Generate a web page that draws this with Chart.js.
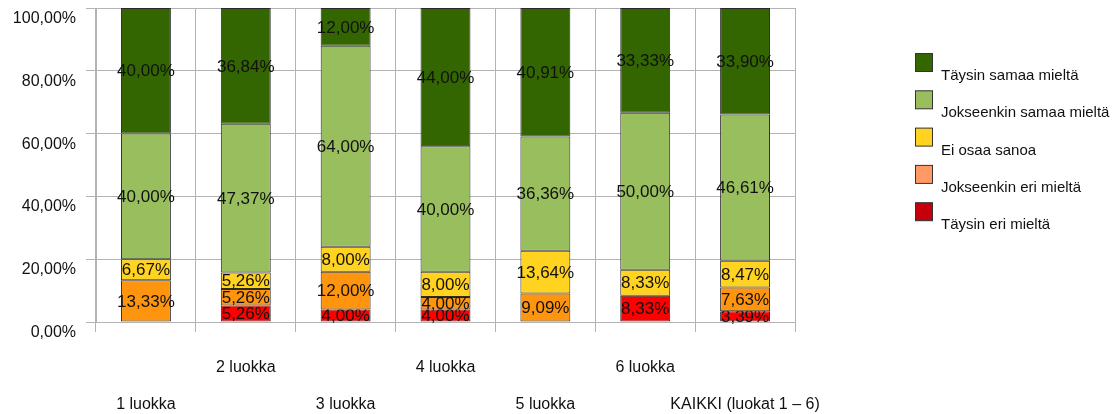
<!DOCTYPE html>
<html>
<head>
<meta charset="utf-8">
<script src="https://cdn.jsdelivr.net/npm/chart.js@4"></script>
<style>
  body { margin: 0; background: #fff; }
</style>
</head>
<body>
<canvas id="kysely" width="1119" height="414"></canvas>
<script>
const luokat = ['1 luokka', '2 luokka', '3 luokka', '4 luokka', '5 luokka', '6 luokka', 'KAIKKI (luokat 1 – 6)'];

// bottom to top of each stack
const taysinEri = [0, 5.26, 4.00, 4.00, 0, 8.33, 3.39];
const jokseenkinEri = [13.33, 5.26, 12.00, 4.00, 9.09, 0, 7.63];
const eiOsaa = [6.67, 5.26, 8.00, 8.00, 13.64, 8.33, 8.47];
const jokseenkinSamaa = [40.00, 47.37, 64.00, 40.00, 36.36, 50.00, 46.61];
const taysinSamaa = [40.00, 36.84, 12.00, 44.00, 40.91, 33.33, 33.90];

const yTicks = [0, 20, 40, 60, 80, 100];

const sarjat = ['Täysin eri mieltä', 'Jokseenkin eri mieltä', 'Ei osaa sanoa', 'Jokseenkin samaa mieltä', 'Täysin samaa mieltä'];
const palkkiVarit = ['#ff0000', '#ff950e', '#ffd320', '#98be5e', '#336600'];
const selitysVarit = ['#c5000b', '#ff9966', '#ffd320', '#98be5e', '#336600'];

const fontti = 'Liberation Sans, Arial, sans-serif';
const pros = v => v.toFixed(2).replace('.', ',') + '%';

// value labels, clipped at the top of their own segment
const arvoLabelit = {
  id: 'arvoLabelit',
  afterDatasetsDraw(chart) {
    const ctx = chart.ctx;
    ctx.save();
    ctx.font = '17px ' + fontti;
    ctx.fillStyle = '#111';
    ctx.textAlign = 'center';
    ctx.textBaseline = 'middle';
    chart.data.datasets.forEach((ds, i) => {
      const meta = chart.getDatasetMeta(i);
      meta.data.forEach((bar, j) => {
        const v = ds.data[j];
        if (!v) return;
        const p = bar.getProps(['x', 'y', 'base'], true);
        ctx.save();
        ctx.beginPath();
        ctx.rect(p.x - 60, p.y, 120, chart.height - p.y);
        ctx.clip();
        ctx.fillText(pros(v), p.x, (p.y + p.base) / 2 + 1);
        ctx.restore();
      });
    });
    ctx.restore();
  }
};

// legend on the right, top entry is the last series
const selite = {
  id: 'selite',
  afterDraw(chart) {
    const ctx = chart.ctx;
    ctx.save();
    ctx.font = '15px ' + fontti;
    ctx.textBaseline = 'middle';
    for (let k = 0; k < sarjat.length; k++) {
      const i = sarjat.length - 1 - k;
      const y = 53 + k * 37.3;
      ctx.fillStyle = selitysVarit[i];
      ctx.fillRect(915.5, y + 0.5, 17, 18);
      ctx.strokeStyle = '#333';
      ctx.lineWidth = 1;
      ctx.strokeRect(915.5, y + 0.5, 17, 18);
      ctx.fillStyle = '#111';
      ctx.fillText(sarjat[i], 941, y + 23);
    }
    ctx.restore();
  }
};

const aineistot = [taysinEri, jokseenkinEri, eiOsaa, jokseenkinSamaa, taysinSamaa];

new Chart(document.getElementById('kysely'), {
  type: 'bar',
  data: {
    labels: luokat,
    datasets: aineistot.map((d, i) => ({
      label: sarjat[i],
      data: d,
      backgroundColor: palkkiVarit[i],
      borderColor: '#2a2a2a',
      borderWidth: 1,
      borderSkipped: false,
      barPercentage: 0.5,
      categoryPercentage: 1
    }))
  },
  options: {
    responsive: false,
    animation: false,
    layout: { padding: { top: 8, right: 324, left: 0, bottom: 0 } },
    plugins: {
      legend: { display: false },
      tooltip: { enabled: false }
    },
    scales: {
      x: {
        stacked: true,
        afterFit: s => { s.height = 92; s.paddingLeft = 0; s.paddingRight = 0; },
        grid: { color: '#b3b3b3', tickLength: 10, offset: true },
        border: { color: '#b3b3b3' },
        ticks: {
          autoSkip: false,
          maxRotation: 0,
          minRotation: 0,
          padding: 17,
          color: '#111',
          font: { family: fontti, size: 16, lineHeight: '37px' },
          callback: (v, i) => i % 2 ? [luokat[i], ''] : ['', luokat[i]]
        }
      },
      y: {
        stacked: true,
        min: 0,
        max: 100,
        afterFit: s => { s.width = 96; s.paddingTop = 0; s.paddingBottom = 0; },
        afterBuildTicks: s => { s.ticks = yTicks.map(v => ({ value: v })); },
        grid: { color: '#b3b3b3', tickLength: 10 },
        border: { color: '#b3b3b3' },
        ticks: {
          padding: 10,
          color: '#111',
          // labels sit a little below their grid line
          font: { family: fontti, size: 16, lineHeight: '21px' },
          callback: v => ['', pros(v)]
        }
      }
    }
  },
  plugins: [arvoLabelit, selite]
});
</script>
</body>
</html>
